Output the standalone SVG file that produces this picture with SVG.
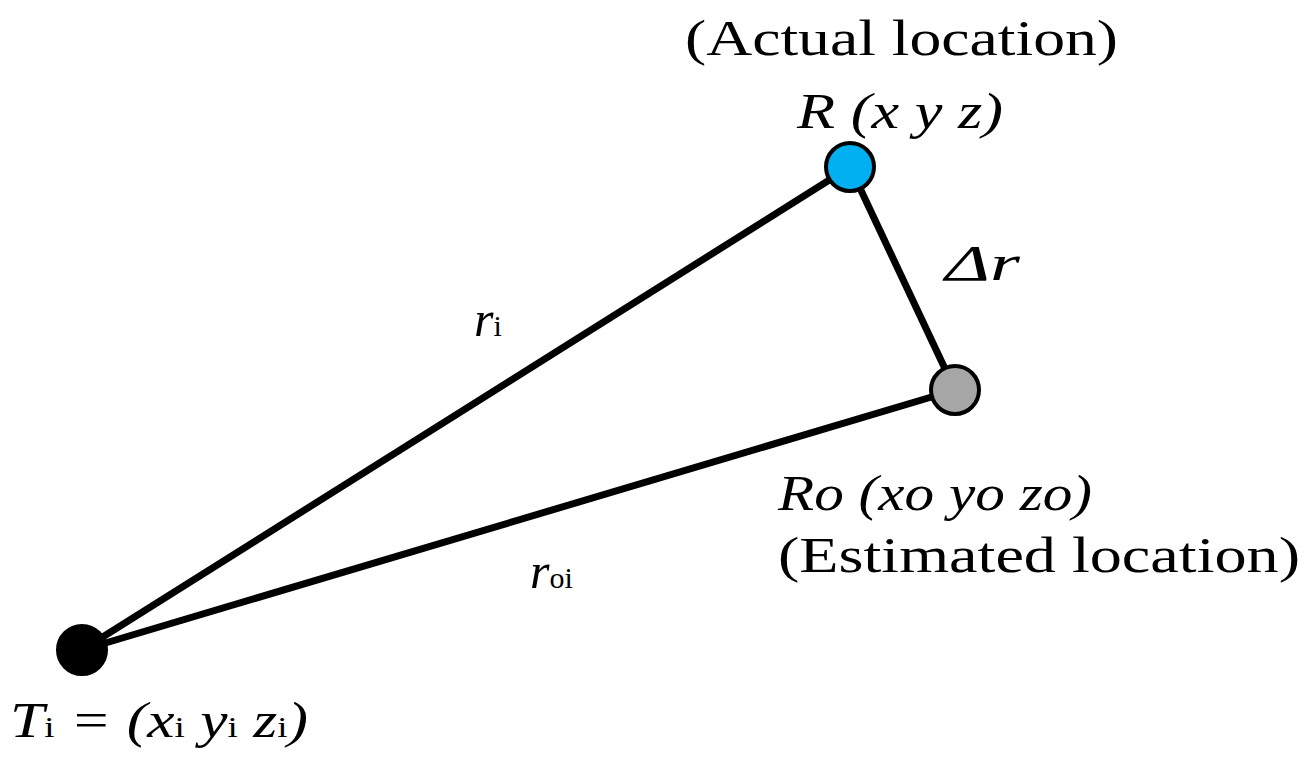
<svg xmlns="http://www.w3.org/2000/svg" width="1308" height="764" viewBox="0 0 1308 764">
<style>
text{font-family:"Liberation Serif",serif;font-size:50px;fill:#000}
.i{font-style:italic}
.s{font-size:30px}
.e{stroke:#000;stroke-width:7;fill:none}
.n{stroke:#000;stroke-width:4}
</style>
<rect width="1308" height="764" fill="#fff"/>
<g id="connectors">
<line class="e" x1="82" y1="650" x2="850" y2="167"/>
<line class="e" x1="82" y1="650" x2="955" y2="390"/>
<line class="e" x1="850" y1="167" x2="955" y2="390"/>
</g>
<g id="R"><circle class="n" cx="850" cy="167" r="24" fill="#00b0f0"/>
<text x="685" y="55" textLength="433" lengthAdjust="spacingAndGlyphs">(Actual location)</text>
<text class="i" x="797" y="128" textLength="206" lengthAdjust="spacingAndGlyphs">R (x y z)</text></g>
<g id="R0"><circle class="n" cx="955" cy="390" r="24" fill="#a6a6a6"/>
<text class="i" x="778" y="510" textLength="314" lengthAdjust="spacingAndGlyphs">Ro (xo yo zo)</text>
<text x="778" y="572" textLength="522" lengthAdjust="spacingAndGlyphs">(Estimated location)</text></g>
<g id="T"><circle class="n" cx="82" cy="650" r="24" fill="#000"/>
<text class="i" x="10" y="737" textLength="298" lengthAdjust="spacingAndGlyphs">T<tspan class="s" font-style="normal">i</tspan> = (x<tspan class="s" font-style="normal">i</tspan>  y<tspan class="s" font-style="normal">i</tspan> z<tspan class="s" font-style="normal">i</tspan>)</text></g>
<text class="i" x="945" y="280" textLength="75" lengthAdjust="spacingAndGlyphs">Δr</text>
<text class="i" x="474" y="336">r<tspan class="s" font-style="normal">i</tspan></text>
<text class="i" x="530" y="588">r<tspan class="s" font-style="normal">oi</tspan></text>
</svg>
